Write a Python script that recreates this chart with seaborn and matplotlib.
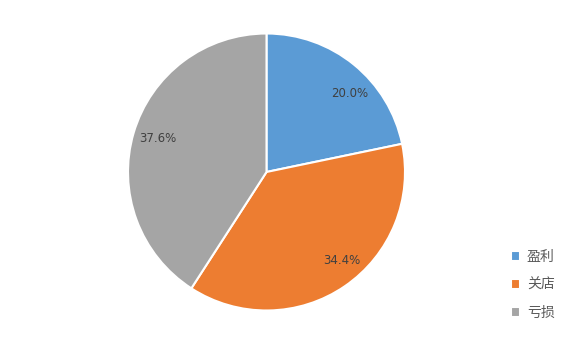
import matplotlib
matplotlib.use("Agg")
import matplotlib.pyplot as plt
import seaborn as sns

categories = ["盈利", "关店", "亏损"]
values = [20.0, 34.4, 37.6]
colors = ["#5B9BD5", "#ED7D31", "#A5A5A5"]

sns.set_theme(style="white")
plt.rcParams['font.family'] = ['Noto Sans CJK SC', 'DejaVu Sans']

fig = plt.figure(figsize=(5.66, 3.39), dpi=100)
cx, cy, r = 266.5, 172, 138.5
ax = fig.add_axes([(cx - r) / 566, (339 - cy - r) / 339, 2 * r / 566, 2 * r / 339])
total = sum(values)
pal = sns.color_palette(colors)
wedges, texts, autotexts = ax.pie(
    values, colors=pal, startangle=90, counterclock=False,
    autopct=lambda p: f"{p * total / 100:.1f}%", pctdistance=0.82,
    wedgeprops=dict(edgecolor="white", linewidth=1.5),
    textprops=dict(color="#404040", fontsize=8.5, family=['DejaVu Sans']),
)
# small label nudges to mimic the original's label placement
nudges = [(0.08, -0.07), (0.08, 0.04), (0.0, 0.01)]
for t, (dx, dy) in zip(autotexts, nudges):
    x, y = t.get_position()
    t.set_position((x + dx, y + dy))
ax.set_xlim(-1, 1)
ax.set_ylim(-1, 1)

leg = fig.legend(wedges, categories, loc="upper left",
                 bbox_to_anchor=(511 / 566, 1 - 250 / 339),
                 frameon=False, handlelength=0.65, handleheight=0.65,
                 handletextpad=0.5, labelspacing=1.0, fontsize=10,
                 labelcolor="#595959", borderaxespad=0, borderpad=0)
fig.savefig("out.png", dpi=100, facecolor="white")
